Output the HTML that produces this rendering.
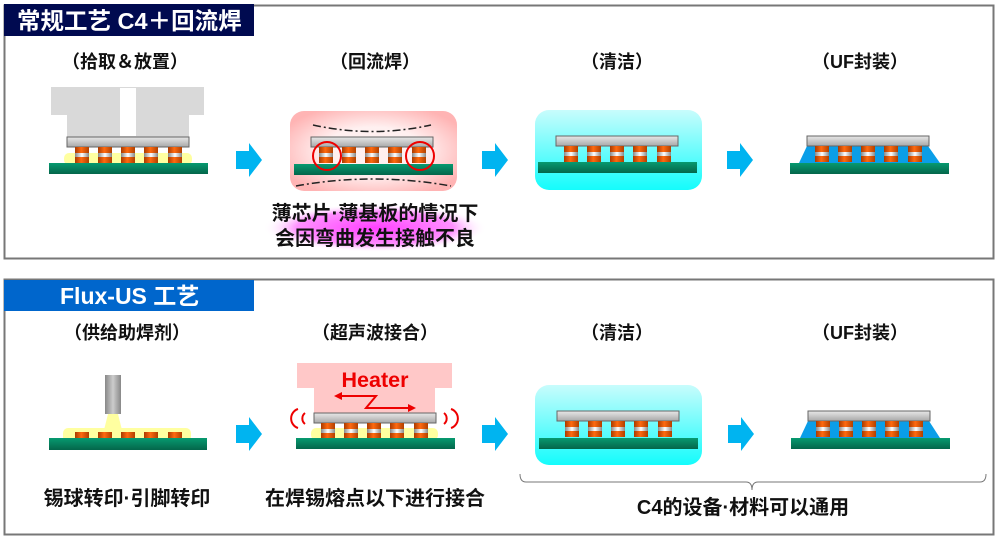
<!DOCTYPE html>
<html><head><meta charset="utf-8"><style>
html,body{margin:0;padding:0;background:#fff;}
svg{display:block;}
text{font-family:"Liberation Sans","Noto Sans CJK SC",sans-serif;font-weight:bold;}
</style></head><body>
<svg width="1000" height="541" viewBox="0 0 1000 541" xmlns="http://www.w3.org/2000/svg">
<defs>
<linearGradient id="bump" x1="0" x2="1" y1="0" y2="0">
<stop offset="0" stop-color="#a83a00"/><stop offset="0.45" stop-color="#ff6a10"/><stop offset="1" stop-color="#b04000"/>
</linearGradient>
<linearGradient id="band" x1="0" x2="1"><stop offset="0" stop-color="#888"/><stop offset="0.5" stop-color="#fff"/><stop offset="1" stop-color="#888"/></linearGradient>
<linearGradient id="chip" x1="0" y1="0" x2="0" y2="1"><stop offset="0" stop-color="#e8e8e8"/><stop offset="1" stop-color="#a8a8a8"/></linearGradient>
<linearGradient id="sub" x1="0" y1="0" x2="0" y2="1"><stop offset="0" stop-color="#079a70"/><stop offset="1" stop-color="#04664a"/></linearGradient>
<linearGradient id="nozzle" x1="0" x2="1"><stop offset="0" stop-color="#888"/><stop offset="0.5" stop-color="#ccc"/><stop offset="1" stop-color="#888"/></linearGradient>
<linearGradient id="clean" x1="0" y1="0" x2="0" y2="1"><stop offset="0" stop-color="#c8fcfc"/><stop offset="1" stop-color="#14fcfc"/></linearGradient>
<radialGradient id="pink" cx="0.5" cy="0.5" r="0.6"><stop offset="0.5" stop-color="#fff0f0"/><stop offset="1" stop-color="#ffb4b4"/></radialGradient>
<radialGradient id="glow" cx="0.5" cy="0.5" r="0.5"><stop offset="0" stop-color="#ff40ff"/><stop offset="0.7" stop-color="#ff90ff"/><stop offset="1" stop-color="#ffffff" stop-opacity="0"/></radialGradient>
<g id="bp"><rect x="0" y="0" width="14" height="16" fill="url(#bump)"/><rect x="0" y="6" width="14" height="4" fill="url(#band)"/></g>
<g id="bumps">
<use href="#bp" x="8"/><use href="#bp" x="31"/><use href="#bp" x="54"/><use href="#bp" x="77"/><use href="#bp" x="101"/>
</g>
<g id="chipr"><rect x="0" y="0" width="122" height="10" fill="url(#chip)" stroke="#666" stroke-width="1"/></g>
<g id="subr"><rect x="-18" y="0" width="159" height="11" fill="url(#sub)"/></g>
<path id="arr" d="M0 8 H13 V0 L26 17 L13 34 V26 H0 Z" fill="#00b4f0"/>
</defs>

<rect x="4.5" y="5.5" width="989" height="253" fill="#fff" stroke="#777" stroke-width="2"/>
<rect x="4" y="4" width="250" height="32" fill="#000a50"/>
<text x="17" y="29" font-size="23.5" fill="#fff">常规工艺  C4＋回流焊</text>

<g font-size="18" fill="#111" text-anchor="middle">
<text x="125" y="68">（拾取＆放置）</text>
<text x="375" y="68">（回流焊）</text>
<text x="617" y="68">（清洁）</text>
<text x="860" y="68">（UF封装）</text>
</g>

<path d="M51 87 H204 V115 H189 V137 H67 V115 H51 Z" fill="#d9d9d9"/>
<rect x="120" y="88" width="16" height="48" fill="#fff"/>
<rect x="64" y="153" width="128" height="12" rx="5" fill="#ffffa0"/>
<use href="#chipr" x="67" y="137"/>
<use href="#bumps" x="67" y="147"/>
<use href="#subr" x="67" y="163"/>

<use href="#arr" x="236" y="143"/>

<rect x="290" y="111" width="167" height="80" rx="14" fill="url(#pink)"/>
<path d="M313 125 Q372 138 431 125" fill="none" stroke="#222" stroke-width="1.5" stroke-dasharray="8 3 2 3"/>
<path d="M296 186 Q373 172 451 186" fill="none" stroke="#222" stroke-width="1.5" stroke-dasharray="8 3 2 3"/>
<use href="#chipr" x="311" y="137"/>
<use href="#bumps" x="311" y="147"/>
<use href="#subr" x="312" y="164"/>
<circle cx="327" cy="156" r="14" fill="none" stroke="#e00" stroke-width="2"/>
<circle cx="420" cy="156" r="14" fill="none" stroke="#e00" stroke-width="2"/>
<ellipse cx="375" cy="228" rx="112" ry="24" fill="url(#glow)"/>
<g font-size="20" fill="#111" text-anchor="middle">
<text x="375" y="220">薄芯片·薄基板的情况下</text>
<text x="375" y="245">会因弯曲发生接触不良</text>
</g>

<use href="#arr" x="482" y="143"/>

<rect x="535" y="110" width="167" height="80" rx="14" fill="url(#clean)"/>
<use href="#chipr" x="556" y="136"/>
<use href="#bumps" x="556" y="146"/>
<use href="#subr" x="556" y="162"/>

<use href="#arr" x="727" y="143"/>

<path d="M799 163 L807 146 H928 L940 163 Z" fill="#0a9ee8"/>
<use href="#chipr" x="807" y="136"/>
<use href="#bumps" x="807" y="146"/>
<use href="#subr" x="808" y="163"/>

<rect x="4.5" y="279.5" width="989" height="255" fill="#fff" stroke="#777" stroke-width="2"/>
<rect x="4" y="280" width="250" height="31" fill="#0066cc"/>
<text x="60" y="304" font-size="23" fill="#fff">Flux-US 工艺</text>

<g font-size="18" fill="#111" text-anchor="middle">
<text x="127" y="339">（供给助焊剂）</text>
<text x="375" y="339">（超声波接合）</text>
<text x="617" y="339">（清洁）</text>
<text x="860" y="339">（UF封装）</text>
</g>

<rect x="105" y="375" width="16" height="39" fill="url(#nozzle)"/>
<path d="M108 414 H118 L122 430 H104 Z" fill="#ffffa0"/>
<rect x="63" y="428" width="128" height="14" rx="5" fill="#ffffa0"/>
<g fill="url(#bump)">
<rect x="75" y="432" width="14" height="7"/><rect x="98" y="432" width="14" height="7"/><rect x="121" y="432" width="14" height="7"/><rect x="144" y="432" width="14" height="7"/><rect x="168" y="432" width="14" height="7"/>
</g>
<rect x="49" y="438" width="158" height="12" fill="url(#sub)"/>

<use href="#arr" x="236" y="417"/>

<path d="M297 363 H452 V388 H435 V413 H314 V388 H297 Z" fill="#ffc8c8"/>
<text x="375" y="387" font-size="21.5" fill="#e00" text-anchor="middle">Heater</text>
<path d="M338 396 H376 L366 408 H411" fill="none" stroke="#e00" stroke-width="2"/>
<path d="M334 396 L342 392 L342 400 Z" fill="#e00"/>
<path d="M416 408 L408 404 L408 412 Z" fill="#e00"/>
<rect x="311" y="428" width="127" height="12" rx="5" fill="#ffffa0"/>
<use href="#chipr" x="314" y="413"/>
<use href="#bumps" x="313" y="423"/>
<use href="#subr" x="314" y="438"/>
<path d="M298 409 A10 10 0 0 0 298 428" fill="none" stroke="#e00" stroke-width="2"/>
<path d="M305 413 A7 7 0 0 0 305 424" fill="none" stroke="#e00" stroke-width="2"/>
<path d="M451 409 A10 10 0 0 1 451 428" fill="none" stroke="#e00" stroke-width="2"/>
<path d="M444 413 A7 7 0 0 1 444 424" fill="none" stroke="#e00" stroke-width="2"/>

<g font-size="20" fill="#111" text-anchor="middle">
<text x="127" y="505">锡球转印·引脚转印</text>
<text x="375" y="505">在焊锡熔点以下进行接合</text>
</g>

<use href="#arr" x="482" y="417"/>

<rect x="535" y="385" width="167" height="80" rx="14" fill="url(#clean)"/>
<use href="#chipr" x="557" y="411"/>
<use href="#bumps" x="557" y="421"/>
<use href="#subr" x="557" y="438"/>

<use href="#arr" x="728" y="417"/>

<path d="M800 438 L808 421 H929 L940 438 Z" fill="#0a9ee8"/>
<use href="#chipr" x="808" y="411"/>
<use href="#bumps" x="808" y="421"/>
<use href="#subr" x="809" y="438"/>

<path d="M520 474 Q520 482 526 482 H746 Q752 482 752 490 Q752 482 758 482 H980 Q986 482 986 474" fill="none" stroke="#777" stroke-width="1"/>
<text x="743" y="514" font-size="20" fill="#111" text-anchor="middle">C4的设备·材料可以通用</text>
</svg>
</body></html>
